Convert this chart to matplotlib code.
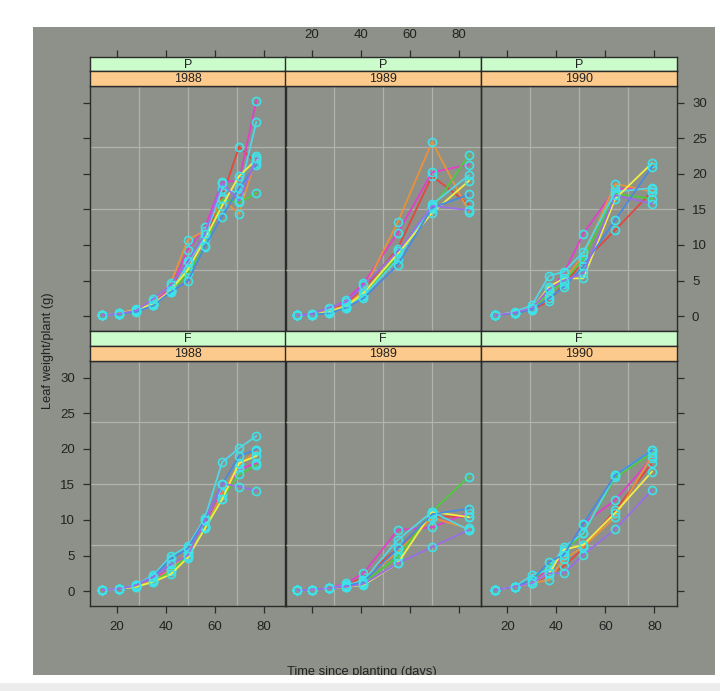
import matplotlib
matplotlib.use('Agg')
import matplotlib.pyplot as plt
import numpy as np
from matplotlib.patches import Rectangle

plt.rcParams['font.family'] = ['Liberation Sans', 'DejaVu Sans']

# ---------------- data ----------------
varieties = ['P', 'F']
years = [1988, 1989, 1990]

times_1988 = [14, 21, 28, 35, 42, 49, 56, 63, 70, 77]
times_1989 = [14, 20, 27, 34, 41, 55, 69, 84]
times_1990 = [15, 23, 30, 37, 43, 51, 64, 79]

P1988 = [
    [0.1, 0.4, 0.9, 1.8, 3.8, 7.5, 11.0, 16.8, 23.8, 21.5],
    [0.1, 0.35, 0.8, 1.9, 3.9, 9.3, 12.5, 18.8, 19.1, 30.3],
    [0.1, 0.4, 1.0, 2.1, 4.6, 10.7, 12.0, 16.4, 14.4, 22.5],
    [0.1, 0.4, 0.8, 1.5, 3.5, 6.0, 9.7, 16.4, 16.0, 17.3],
    [0.1, 0.3, 0.7, 1.6, 3.4, 7.4, 11.1, 17.9, 17.3, 27.3],
    [0.1, 0.35, 0.9, 1.7, 3.6, 6.5, 10.8, 15.5, 19.7, 22.0],
    [0.1, 0.3, 0.6, 1.5, 3.4, 4.9, 9.8, 14.0, 18.0, 21.3],
    [0.1, 0.35, 0.8, 2.4, 4.4, 7.7, 11.5, 18.7, 16.2, 22.2],
]
P1989 = [
    [0.1, 0.2, 0.7, 1.8, 3.8, 9.5, 19.7, 15.7],
    [0.1, 0.3, 0.9, 2.3, 4.6, 11.7, 20.2, 21.3],
    [0.1, 0.2, 0.8, 1.5, 3.6, 13.2, 24.5, 14.7],
    [0.1, 0.2, 0.6, 1.3, 3.0, 8.5, 15.0, 22.6],
    [0.1, 0.2, 0.5, 1.2, 2.8, 8.0, 15.7, 19.8],
    [0.1, 0.2, 0.6, 1.4, 3.2, 8.8, 14.5, 19.0],
    [0.1, 0.2, 0.4, 1.2, 2.5, 7.2, 15.2, 17.1],
    [0.1, 0.3, 1.2, 2.0, 4.3, 9.1, 15.5, 14.9],
]
P1990 = [
    [0.1, 0.5, 0.9, 2.1, 4.5, 7.6, 12.1, 17.5],
    [0.1, 0.5, 1.0, 3.5, 6.0, 11.6, 17.9, 17.9],
    [0.1, 0.5, 1.2, 3.0, 5.0, 8.5, 18.6, 17.5],
    [0.1, 0.5, 1.0, 3.2, 4.8, 8.0, 17.2, 16.5],
    [0.1, 0.6, 1.5, 5.7, 6.2, 9.0, 17.5, 18.0],
    [0.1, 0.5, 1.0, 4.1, 5.3, 5.3, 16.5, 21.5],
    [0.1, 0.4, 0.9, 2.5, 4.1, 7.0, 13.5, 21.0],
    [0.1, 0.5, 1.1, 3.8, 5.0, 6.0, 17.0, 15.8],
]
F1988 = [
    [0.15, 0.3, 0.7, 1.5, 3.0, 5.5, 9.0, 13.5, 17.5, 19.9],
    [0.15, 0.3, 0.7, 1.6, 3.2, 5.3, 9.2, 14.0, 17.1, 18.0],
    [0.15, 0.3, 0.8, 1.4, 3.0, 5.5, 8.8, 13.8, 17.8, 19.7],
    [0.15, 0.3, 0.6, 1.3, 2.8, 5.0, 9.0, 13.0, 16.4, 17.7],
    [0.15, 0.3, 0.9, 2.25, 4.9, 6.3, 10.3, 18.1, 20.1, 21.8],
    [0.15, 0.3, 0.6, 1.3, 2.35, 4.7, 8.8, 12.9, 18.0, 19.0],
    [0.15, 0.3, 0.8, 2.0, 4.5, 6.0, 10.0, 15.0, 19.0, 19.9],
    [0.15, 0.3, 0.85, 2.0, 3.75, 5.0, 10.0, 15.1, 14.7, 14.1],
]
F1989 = [
    [0.1, 0.2, 0.4, 0.8, 2.0, 6.0, 10.5, 10.4],
    [0.1, 0.2, 0.4, 1.1, 2.5, 8.6, 8.96, 11.0],
    [0.1, 0.2, 0.4, 0.6, 1.6, 5.5, 10.3, 8.8],
    [0.1, 0.2, 0.4, 0.7, 1.2, 4.8, 11.15, 16.1],
    [0.1, 0.2, 0.4, 0.8, 1.5, 7.2, 11.15, 8.6],
    [0.1, 0.2, 0.4, 0.6, 0.85, 3.9, 11.15, 10.4],
    [0.1, 0.2, 0.4, 0.7, 1.3, 6.0, 10.8, 11.6],
    [0.1, 0.2, 0.4, 0.6, 1.0, 3.9, 6.2, 8.6],
]
F1990 = [
    [0.15, 0.6, 1.1, 2.25, 3.5, 6.0, 11.4, 18.0],
    [0.15, 0.6, 1.5, 3.0, 5.1, 9.5, 12.8, 18.7],
    [0.15, 0.6, 1.1, 1.55, 4.5, 6.2, 10.45, 19.0],
    [0.15, 0.6, 1.5, 3.5, 5.5, 8.1, 16.0, 19.4],
    [0.15, 0.6, 2.25, 3.0, 6.2, 8.1, 16.3, 19.8],
    [0.15, 0.6, 1.1, 2.5, 5.8, 6.5, 11.0, 16.8],
    [0.15, 0.6, 1.5, 4.1, 5.1, 9.5, 16.3, 19.8],
    [0.15, 0.6, 1.1, 2.5, 2.5, 5.1, 8.7, 14.2],
]

times = {1988: times_1988, 1989: times_1989, 1990: times_1990}
weights = {('P', 1988): P1988, ('P', 1989): P1989, ('P', 1990): P1990,
           ('F', 1988): F1988, ('F', 1989): F1989, ('F', 1990): F1990}

x_ticks = [20, 40, 60, 80]
y_ticks = [0, 5, 10, 15, 20, 25, 30]

# ---------------- style ----------------
line_colors = ['#e2483e', '#e23fcb', '#e9923c', '#4fca3f', '#52d6e6',
               '#f0ee45', '#4a8ae0', '#9a6ee6']
point_color = '#3fe2e8'
bg_color = '#8d9189'
grid_color = '#b0b3ab'
frame_color = '#2b2b2b'
text_color = '#222222'
strip_top_color = '#ccfbcc'
strip_bot_color = '#fbca8c'

W, H = 720, 691
fig = plt.figure(figsize=(W / 100, H / 100), dpi=100)
fig.patch.set_facecolor('white')


def frect(x0, y0, x1, y1):
    return [x0 / W, 1 - y1 / H, (x1 - x0) / W, (y1 - y0) / H]


bg = Rectangle((33 / W, 1 - 675 / H), (715 - 33) / W, (675 - 26.7) / H,
               transform=fig.transFigure, facecolor=bg_color,
               edgecolor='none', zorder=-5)
fig.patches.append(bg)
fig.patches.append(Rectangle((0, 0), 1, 8 / H, transform=fig.transFigure,
                             facecolor='#ececec', edgecolor='none', zorder=-5))

col_left = [90, 285.3, 480.7]
col_w = 196.0
row_geom = [(56.7, 71.3, 86.0, 331.0), (331.0, 346.0, 361.0, 606.0)]
xlim = (9.1, 89.1)
ylim = (-2.1, 32.35)

for r, var in enumerate(varieties):
    s0, s1, p0, p1 = row_geom[r]
    for c, yr in enumerate(years):
        x0 = col_left[c]
        x1 = x0 + col_w
        ax = fig.add_axes(frect(x0, p0, x1, p1))
        ax.set_facecolor('none')
        ax.set_xlim(*xlim)
        ax.set_ylim(*ylim)
        for v in np.linspace(xlim[0], xlim[1], 5)[1:-1]:
            ax.axvline(v, color=grid_color, lw=0.9, zorder=1)
        for h in np.linspace(ylim[0], ylim[1], 5)[1:-1]:
            ax.axhline(h, color=grid_color, lw=0.9, zorder=1)
        t = times[yr]
        for i, w in enumerate(weights[(var, yr)]):
            ax.plot(t, w, color=line_colors[i], lw=1.3, zorder=2 + i * 0.01)
            ax.plot(t, w, ls='none', marker='o', mfc='none', mec=point_color,
                    ms=5.8, mew=1.2, zorder=2.005 + i * 0.01)
        for sp in ax.spines.values():
            sp.set_color(frame_color)
            sp.set_linewidth(1.0)
        ax.set_xticks(x_ticks)
        ax.set_yticks(y_ticks)
        ax.tick_params(direction='out', length=5, width=0.9, colors=frame_color,
                       labelcolor=text_color, labelsize=9.5, pad=6)
        ax.tick_params(axis='x', top=False, labeltop=False,
                       bottom=(r == 1), labelbottom=(r == 1 and c != 1))
        ax.tick_params(axis='y', left=(c == 0), labelleft=(c == 0 and r == 1),
                       right=(c == 2), labelright=(c == 2 and r == 0))

        # strips
        for k, (ya, yb, col, label) in enumerate([(s0, s1, strip_top_color, var),
                                                   (s1, p0, strip_bot_color, str(yr))]):
            sa = fig.add_axes(frect(x0, ya, x1, yb))
            sa.set_facecolor(col)
            sa.set_xlim(*xlim)
            sa.set_ylim(0, 1)
            sa.text(0.5, 0.45, label, transform=sa.transAxes, ha='center',
                    va='center', fontsize=9, color=text_color)
            for sp in sa.spines.values():
                sp.set_color(frame_color)
                sp.set_linewidth(1.0)
            sa.set_yticks([])
            if r == 0 and k == 0:
                sa.set_xticks(x_ticks)
                sa.tick_params(axis='x', direction='out', length=5, width=0.9,
                               colors=frame_color, labelcolor=text_color,
                               labelsize=9.5, pad=6, top=True, labeltop=(c == 1),
                               bottom=False, labelbottom=False)
            else:
                sa.set_xticks([])

fig.text(48 / W, 1 - 351 / H, 'Leaf weight/plant (g)', rotation=90,
         ha='center', va='center', fontsize=9.3, color=text_color)
xl = fig.text(362 / W, 1 - 666 / H, 'Time since planting (days)',
              ha='center', va='top', fontsize=9.3, color=text_color)
xl.set_clip_path(bg)

fig.savefig('out.png', dpi=100, facecolor='white')
